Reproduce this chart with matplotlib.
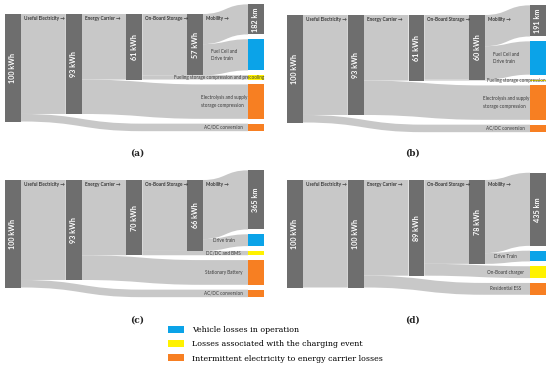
import matplotlib
matplotlib.use('Agg')
import matplotlib.pyplot as plt
from matplotlib.path import Path
from matplotlib.patches import PathPatch, Patch

stages = ['Useful Electricity →', 'Energy Carrier →', 'On-Board Storage →', 'Mobility →']

# energy left after each stage (kWh), energy reaching the wheels, range
a_kwh = [100, 93, 61, 57]
a_wheels = 28
a_range = '182 km'
a_loss_labels = ['AC/DC conversion', 'Electrolysis and supply\nstorage compression',
                 'Fueling storage compression and precooling', 'Fuel Cell and\nDrive train']
a_loss_kinds = ['grid', 'grid', 'charge', 'vehicle']

b_kwh = [100, 93, 61, 60]
b_wheels = 29
b_range = '191 km'
b_loss_labels = ['AC/DC conversion', 'Electrolysis and supply\nstorage compression',
                 'Fueling storage compression', 'Fuel Cell and\nDrive train']
b_loss_kinds = ['grid', 'grid', 'charge', 'vehicle']

c_kwh = [100, 93, 70, 66]
c_wheels = 55
c_range = '365 km'
c_loss_labels = ['AC/DC conversion', 'Stationary Battery', 'DC/DC and BMS', 'Drive train']
c_loss_kinds = ['grid', 'grid', 'charge', 'vehicle']

d_kwh = [100, 100, 89, 78]
d_wheels = 68
d_range = '435 km'
d_loss_labels = ['', 'Residential ESS', 'On-Board charger', 'Drive Train']
d_loss_kinds = ['', 'grid', 'charge', 'vehicle']

legend_kinds = ['vehicle', 'charge', 'grid']
legend_labels = ['Vehicle losses in operation',
                 'Losses associated with the charging event',
                 'Intermittent electricity to energy carrier losses']

NODE = '#6e6e6e'
LINK = '#c8c8c8'
TXT = '#3a3a3a'
COLORS = {'vehicle': '#0ba3e8', 'charge': '#fff200', 'grid': '#f77f22'}
W = 0.26      # node width in column units
GAP = 4.5     # gap between nodes of the last column (kWh)
BEND = 2.0    # max horizontal length of a link's bend (columns)
PX = 60.75    # pixels per column
PY = 1.075    # pixels per kWh
SANS = ['Lato', 'DejaVu Sans']


def band(ax, x0, y0a, y0b, x1, y1a, y1b, z):
    s = min(x1 - x0, BEND)
    xm = x0 + s / 2
    xe = x0 + s
    verts = [(x0, y0a), (xm, y0a), (xm, y1a), (xe, y1a), (x1, y1a),
             (x1, y1b), (xe, y1b), (xm, y1b), (xm, y0b), (x0, y0b), (x0, y0a)]
    codes = [Path.MOVETO, Path.CURVE4, Path.CURVE4, Path.CURVE4, Path.LINETO,
             Path.LINETO, Path.LINETO, Path.CURVE4, Path.CURVE4, Path.CURVE4, Path.CLOSEPOLY]
    ax.add_patch(PathPatch(Path(verts, codes), fc=LINK, ec='none', zorder=z))


def sankey(ax, kwh, wheels, range_lbl, loss_labels, loss_kinds, tag):
    n = len(kwh)
    out = kwh[1:] + [wheels]
    losses = [k - o for k, o in zip(kwh, out)]
    finals = [(-1, wheels)] + [(i, losses[i]) for i in reversed(range(n)) if losses[i] > 0]
    total = sum(v for _, v in finals) + GAP * (len(finals) - 1)
    y = (kwh[0] - total) / 2
    tops = {}
    for i, v in finals:
        tops[i] = y
        y += v + GAP
    xf = n

    # links
    for i in range(n):
        src = i + W
        if i < n - 1:
            band(ax, src, 0, out[i], i + 1, 0, out[i], 2)
        else:
            band(ax, src, 0, out[i], xf, tops[-1], tops[-1] + wheels, 2)
        if losses[i] > 0:
            band(ax, src, out[i], kwh[i], xf, tops[i], tops[i] + losses[i], 1)

    # stage nodes
    ax.bar(range(n), kwh, W, bottom=0, align='edge', color=NODE, zorder=3)
    for i in range(n):
        ax.text(i + W / 2, kwh[i] / 2, f'{kwh[i]} kWh', rotation=90, ha='center', va='center',
                color='white', fontsize=5.2, fontweight='bold', family=SANS, zorder=4)
        ax.text(i + W + 0.05, 4, stages[i], ha='left', va='center', color=TXT,
                fontsize=3.3, fontweight='bold', family=SANS, zorder=4)

    # last column
    ax.bar([xf], [wheels], W, bottom=[tops[-1]], align='edge', color=NODE, zorder=3)
    ax.text(xf + W / 2, tops[-1] + wheels / 2, range_lbl, rotation=90, ha='center', va='center',
            color='white', fontsize=5.2, fontweight='bold', family=SANS, zorder=4)
    for i, v in finals[1:]:
        ax.bar([xf], [v], W, bottom=[tops[i]], align='edge',
               color=COLORS[loss_kinds[i]], zorder=3)
        lbl = loss_labels[i]
        if len(lbl) > 25 and '\n' not in lbl:
            ax.text(xf + W, tops[i] + v / 2, lbl, ha='right', va='center', color=TXT,
                    fontsize=3.3, family=SANS, zorder=4)
        else:
            ax.text(xf - 0.4, tops[i] + v / 2, lbl, ha='center', va='center', color=TXT,
                    fontsize=3.3, family=SANS, multialignment='left', linespacing=1.6, zorder=4)

    ax.text(0.5, 0.045, tag, transform=ax.transAxes, ha='center', va='center',
            fontsize=6.5, fontweight='bold', family='DejaVu Serif', color='#222222')
    ax.axis('off')


fig = plt.figure(figsize=(5.5, 3.67), dpi=100)


def panel(left, top, w, h, x0, y0):
    ax = fig.add_axes([left / 550, 1 - (top + h) / 367, w / 550, h / 367])
    ax.set_xlim((left - x0) / PX, (left + w - x0) / PX)
    ax.set_ylim((top + h - y0) / PY, (top - y0) / PY)
    return ax


sankey(panel(0, 0, 275, 160, 5, 14), a_kwh, a_wheels, a_range, a_loss_labels, a_loss_kinds, '(a)')
sankey(panel(275, 0, 275, 160, 287, 15), b_kwh, b_wheels, b_range, b_loss_labels, b_loss_kinds, '(b)')
sankey(panel(0, 162, 275, 165, 5, 180), c_kwh, c_wheels, c_range, c_loss_labels, c_loss_kinds, '(c)')
sankey(panel(275, 162, 275, 165, 287, 180), d_kwh, d_wheels, d_range, d_loss_labels, d_loss_kinds, '(d)')

handles = [Patch(facecolor=COLORS[k], edgecolor='none') for k in legend_kinds]
fig.legend(handles, legend_labels, loc='upper left', bbox_to_anchor=(168 / 550, 1 - 326 / 367),
           frameon=False, prop={'family': 'DejaVu Serif', 'size': 5.7},
           handlelength=2.0, handleheight=1.0, handletextpad=1.0, labelspacing=0.75,
           borderaxespad=0, borderpad=0)

fig.savefig('out.png', dpi=100)
